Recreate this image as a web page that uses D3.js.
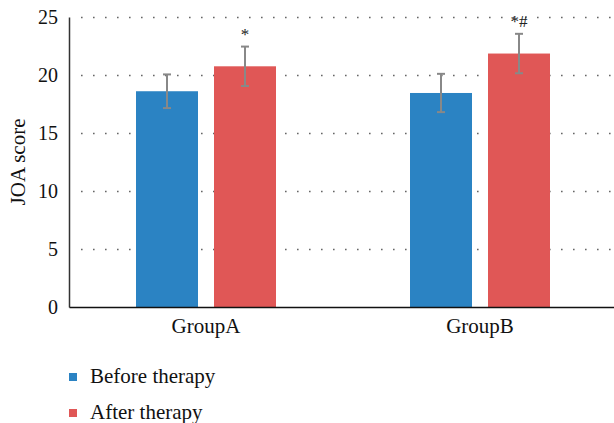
<!DOCTYPE html>
<html><head><meta charset="utf-8">
<script src="https://cdn.jsdelivr.net/npm/d3@7"></script>
<style>body{margin:0;background:#fff}svg{display:block}</style>
</head><body>
<script>
const groups = ["GroupA", "GroupB"];
const seriesNames = ["Before therapy", "After therapy"];
const before = [18.6, 18.45];
const after = [20.75, 21.85];
const beforeErr = [1.45, 1.65];
const afterErr = [1.7, 1.7];
const annotations = ["", ""];
const annotationsAfter = ["*", "*#"];
const yTicks = [0, 5, 10, 15, 20, 25];
const colors = ["#2B83C3", "#E05756"];

const W = 614, H = 423;
const svg = d3.select("body").append("svg").attr("width", W).attr("height", H);
const font = "'Liberation Serif', 'Times New Roman', serif";

const x0 = d3.scaleBand().domain(groups).range([69, 617]).padding(0);
const y = d3.scaleLinear().domain([0, 25]).range([307, 17]);
const x1 = d3.scaleOrdinal().domain(seriesNames).range([-70, 8]);
const barW = 62;

// gridlines
svg.append("g").selectAll("line").data(yTicks.filter(t => t > 0)).join("line")
  .attr("x1", 81).attr("x2", 612)
  .attr("y1", d => Math.round(y(d)) + 0.5).attr("y2", d => Math.round(y(d)) + 0.5)
  .attr("stroke", "#666").attr("stroke-width", 1.6)
  .attr("stroke-dasharray", "1.6,10.4");

const data = [];
groups.forEach((g, i) => {
  data.push({g, s: seriesNames[0], v: before[i], e: beforeErr[i], a: annotations[i], c: colors[0]});
  data.push({g, s: seriesNames[1], v: after[i], e: afterErr[i], a: annotationsAfter[i], c: colors[1]});
});

svg.append("g").selectAll("rect").data(data).join("rect")
  .attr("x", d => x0(d.g) + x0.bandwidth() / 2 + x1(d.s))
  .attr("width", barW)
  .attr("y", d => y(d.v))
  .attr("height", d => y(0) - y(d.v))
  .attr("fill", d => d.c);

// error bars
const eb = svg.append("g").attr("stroke", "#888").attr("stroke-width", 2);
data.forEach(d => {
  const cx = x0(d.g) + x0.bandwidth() / 2 + x1(d.s) + barW / 2;
  eb.append("line").attr("x1", cx).attr("x2", cx).attr("y1", y(d.v + d.e)).attr("y2", y(d.v - d.e));
  eb.append("line").attr("x1", cx - 4).attr("x2", cx + 4).attr("y1", y(d.v + d.e)).attr("y2", y(d.v + d.e));
  eb.append("line").attr("x1", cx - 4).attr("x2", cx + 4).attr("y1", y(d.v - d.e)).attr("y2", y(d.v - d.e));
  if (d.a) {
    svg.append("text").attr("x", cx).attr("y", y(d.v + d.e) - 7)
      .attr("text-anchor", "middle").attr("font-family", font).attr("font-size", 17)
      .attr("fill", "#222").text(d.a);
  }
});

// axes
const yAxis = svg.append("g").attr("transform", "translate(69,0)")
  .call(d3.axisLeft(y).tickValues(yTicks).tickSize(0).tickPadding(11));
yAxis.select(".domain").attr("stroke", "#333").attr("stroke-width", 1.5);
yAxis.selectAll("text").attr("font-family", font).attr("font-size", 20).attr("fill", "#111");

const xAxis = svg.append("g").attr("transform", "translate(0,307)")
  .call(d3.axisBottom(x0).tickSize(0).tickPadding(11));
xAxis.select(".domain").attr("stroke", "#111").attr("stroke-width", 1.5);
xAxis.selectAll("text").attr("font-family", font).attr("font-size", 21).attr("fill", "#111");

svg.append("text").attr("transform", "translate(25,162) rotate(-90)")
  .attr("text-anchor", "middle").attr("font-family", font).attr("font-size", 21)
  .attr("fill", "#111").text("JOA score");

// legend
const lg = svg.append("g");
seriesNames.forEach((s, i) => {
  const yy = 377 + i * 36;
  lg.append("rect").attr("x", 69).attr("y", yy - 4).attr("width", 8).attr("height", 8).attr("fill", colors[i]);
  lg.append("text").attr("x", 90).attr("y", yy + 6).attr("font-family", font).attr("font-size", 21)
    .attr("fill", "#111").text(s);
});
</script>
</body></html>
